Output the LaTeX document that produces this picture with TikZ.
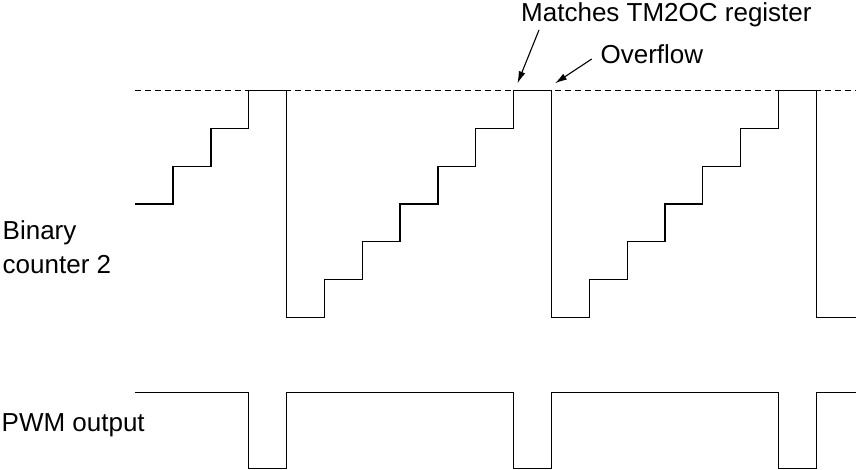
\documentclass[tikz,border=0pt]{standalone}
\usepackage{fontspec}
\setmainfont{Liberation Sans}
\usetikzlibrary{arrows.meta}
\tikzset{
  wave/.style={line width=1.25pt, line join=miter},
  limitline/.style={line width=1.1pt, dash pattern=on 5.5pt off 4.5pt},
  label/.style={font=\fontsize{26}{30}\selectfont, inner sep=0pt, anchor=base west},
  pointer/.style={line width=1.1pt, -{Latex[length=12pt,width=7pt]}}
}
\begin{document}
\begin{tikzpicture}[x=1pt,y=-1pt]
\useasboundingbox (0,0) rectangle (856,470);
% labels
\node[label] (bin1) at (2.5,240) {Binary};
\node[label] (bin2) at (2.5,273.3) {counter 2};
\node[label] (pwm) at (1.5,431.7) {PWM output};
\node[label] (match) at (521,21.7) {Matches TM2OC register};
\node[label] (ovf) at (600.4,63.3) {Overflow};
% limit (dashed)
\draw[limitline] (135.2,90.7) -- (856,90.7);
% binary counter staircase
\begin{scope}[shift={(135.2,317.3)}, x=37.84pt, y=37.77pt]
  \draw[wave] (0,3) -| (1,4) -| (2,5) -| (3,6) -| (4,0)
    -| (5,1) -| (6,2) -| (7,3) -| (8,4) -| (9,5) -| (10,6) -| (11,0)
    -| (12,1) -| (13,2) -| (14,3) -| (15,4) -| (16,5) -| (17,6) -| (18,0)
    -- (19.05,0);
\end{scope}
% PWM output
\begin{scope}[shift={(135.2,392.7)}, x=37.84pt, y=-1pt]
  \draw[wave] (0,0) -| (3,75.8) -| (4,0) -| (10,75.8) -| (11,0)
    -| (17,75.8) -| (18,0) -- (19.05,0);
\end{scope}
% pointers
\coordinate (p1s) at (539,30);
\coordinate (p1e) at (517.5,83.3);
\coordinate (p2s) at (591.7,59);
\coordinate (p2e) at (555,83.3);
\draw[pointer] (p1s) -- (p1e);
\draw[pointer] (p2s) -- (p2e);
\end{tikzpicture}
\end{document}
